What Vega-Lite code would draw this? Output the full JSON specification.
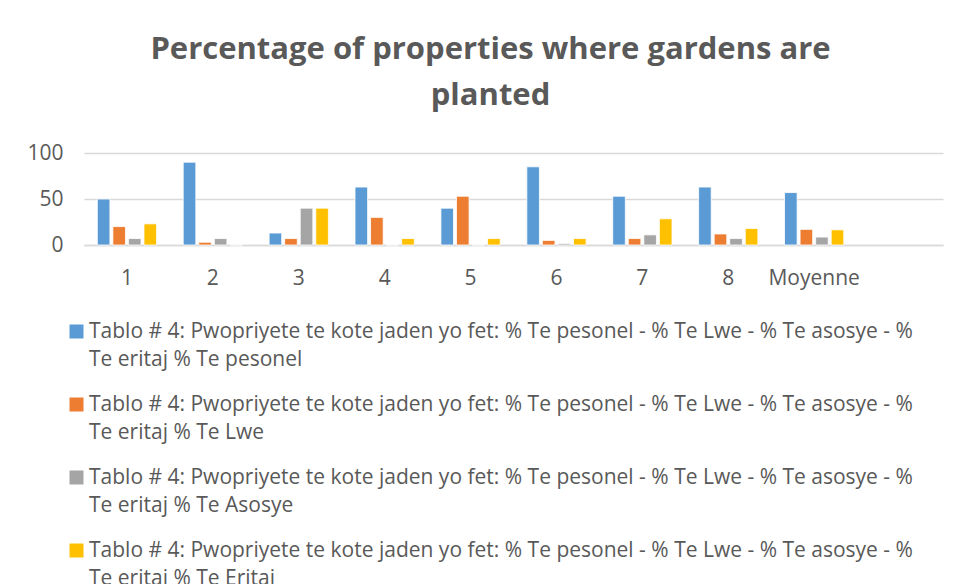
{
  "$schema": "https://vega.github.io/schema/vega-lite/v6.json",
  "width": 859,
  "height": 92,
  "autosize": {"type": "none"},
  "padding": {"left": 84, "top": 153, "right": 16, "bottom": 339},
  "background": "white",
  "title": {
    "text": ["Percentage of properties where gardens are", "planted"],
    "font": "Open Sans",
    "fontSize": 31,
    "fontWeight": "bold",
    "color": "#595959",
    "lineHeight": 46,
    "anchor": "middle",
    "dx": -23,
    "offset": 30
  },
  "data": {
    "values": [
      {"cat": "1", "series": "pesonel", "value": 50},
      {"cat": "1", "series": "Lwe", "value": 20},
      {"cat": "1", "series": "Asosye", "value": 7},
      {"cat": "1", "series": "Eritaj", "value": 23},
      {"cat": "2", "series": "pesonel", "value": 90},
      {"cat": "2", "series": "Lwe", "value": 3},
      {"cat": "2", "series": "Asosye", "value": 7},
      {"cat": "2", "series": "Eritaj", "value": 0},
      {"cat": "3", "series": "pesonel", "value": 13},
      {"cat": "3", "series": "Lwe", "value": 7},
      {"cat": "3", "series": "Asosye", "value": 40},
      {"cat": "3", "series": "Eritaj", "value": 40},
      {"cat": "4", "series": "pesonel", "value": 63},
      {"cat": "4", "series": "Lwe", "value": 30},
      {"cat": "4", "series": "Asosye", "value": 0},
      {"cat": "4", "series": "Eritaj", "value": 7},
      {"cat": "5", "series": "pesonel", "value": 40},
      {"cat": "5", "series": "Lwe", "value": 53},
      {"cat": "5", "series": "Asosye", "value": 0},
      {"cat": "5", "series": "Eritaj", "value": 7},
      {"cat": "6", "series": "pesonel", "value": 85},
      {"cat": "6", "series": "Lwe", "value": 5},
      {"cat": "6", "series": "Asosye", "value": 1.5},
      {"cat": "6", "series": "Eritaj", "value": 7},
      {"cat": "7", "series": "pesonel", "value": 53},
      {"cat": "7", "series": "Lwe", "value": 7},
      {"cat": "7", "series": "Asosye", "value": 11},
      {"cat": "7", "series": "Eritaj", "value": 28.5},
      {"cat": "8", "series": "pesonel", "value": 63},
      {"cat": "8", "series": "Lwe", "value": 12},
      {"cat": "8", "series": "Asosye", "value": 7},
      {"cat": "8", "series": "Eritaj", "value": 18},
      {"cat": "Moyenne", "series": "pesonel", "value": 57},
      {"cat": "Moyenne", "series": "Lwe", "value": 17},
      {"cat": "Moyenne", "series": "Asosye", "value": 8.6},
      {"cat": "Moyenne", "series": "Eritaj", "value": 16.5}
    ]
  },
  "mark": {"type": "bar", "stroke": "white", "strokeWidth": 0.8},
  "encoding": {
    "x": {
      "field": "cat",
      "type": "nominal",
      "scale": {
        "domain": ["1", "2", "3", "4", "5", "6", "7", "8", "Moyenne", " "],
        "paddingInner": 0.31,
        "paddingOuter": 0.155
      },
      "axis": {
        "title": null,
        "labelAngle": 0,
        "labelFont": "Open Sans",
        "labelFontSize": 21,
        "labelColor": "#595959",
        "labelPadding": 22,
        "ticks": false,
        "domainColor": "#d9d9d9",
        "domainWidth": 1.5,
        "grid": false
      }
    },
    "xOffset": {
      "field": "series",
      "type": "nominal",
      "scale": {
        "domain": ["pesonel", "Lwe", "Asosye", "Eritaj"],
        "paddingInner": 0.19,
        "paddingOuter": 0
      }
    },
    "y": {
      "field": "value",
      "type": "quantitative",
      "scale": {"domain": [0, 100], "nice": false},
      "axis": {
        "title": null,
        "values": [0, 50, 100],
        "labelFont": "Open Sans",
        "labelFontSize": 21,
        "labelColor": "#595959",
        "labelPadding": 21,
        "ticks": false,
        "domain": false,
        "gridColor": "#d9d9d9",
        "gridWidth": 1.5
      }
    },
    "color": {
      "field": "series",
      "type": "nominal",
      "scale": {
        "domain": ["pesonel", "Lwe", "Asosye", "Eritaj"],
        "range": ["#5B9BD5", "#ED7D31", "#A5A5A5", "#FFC000"]
      },
      "legend": {
        "title": null,
        "orient": "none",
        "legendX": -18,
        "legendY": 168,
        "direction": "vertical",
        "symbolType": "square",
        "symbolSize": 196,
        "symbolStrokeWidth": 0,
        "labelFont": "Open Sans",
        "labelFontSize": 21,
        "labelColor": "#595959",
        "labelLimit": 0,
        "labelOffset": 2,
        "rowPadding": 23,
        "labelExpr": "['Tablo # 4: Pwopriyete te kote jaden yo fet: % Te pesonel - % Te Lwe - % Te asosye - %', 'Te eritaj % Te ' + datum.label]",
        "encode": {"labels": {"enter": {"lineHeight": {"value": 28}}}}
      }
    }
  },
  "config": {
    "view": {"stroke": null},
    "style": {"guide-label": {"lineHeight": 28}}
  }
}
